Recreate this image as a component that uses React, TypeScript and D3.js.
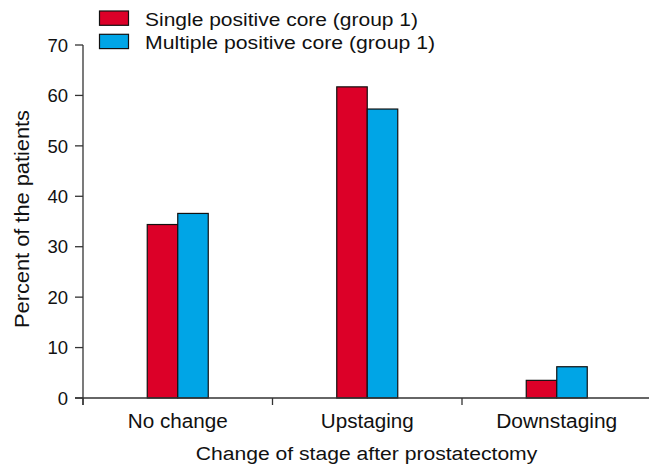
import React from "react";
import * as d3 from "d3";

const categories = ["No change", "Upstaging", "Downstaging"];
const seriesNames = ["Single positive core (group 1)", "Multiple positive core (group 1)"];
const singleValues = [34.4, 61.7, 3.5];
const multipleValues = [36.6, 57.3, 6.2];
const yTicks = [0, 10, 20, 30, 40, 50, 60, 70];
const colors = ["#dc0028", "#00a5e6"];

const W = 649;
const H = 466;
const left = 83;
const right = 651.5;
const y0 = 398;
const yTop = 45;
const font = "Liberation Sans, Arial, sans-serif";
const catWidths = [100, 93, 121];
const legendWidths = [273, 290];

export default function App() {
  const x = d3.scaleBand<string>().domain(categories).range([left, right]).padding(0);
  const y = d3.scaleLinear().domain([0, 70]).range([y0, yTop]);
  const barW = 30.5;
  const series = [singleValues, multipleValues];
  const boundaries = categories.map((c) => x(c)!).concat([right]);

  return (
    <svg width={W} height={H} style={{ position: "absolute", left: 0, top: 0 }} fontFamily={font}>
      {categories.map((c, i) => {
        const cx = x(c)! + x.bandwidth() / 2;
        return series.map((vals, s) => (
          <rect
            key={c + s}
            x={cx - barW + s * barW}
            y={y(vals[i])}
            width={barW}
            height={y0 - y(vals[i])}
            fill={colors[s]}
            stroke="#111"
            strokeWidth={1.2}
          />
        ));
      })}
      <line x1={left} x2={left} y1={yTop} y2={y0 + 7} stroke="#333" strokeWidth={1.3} />
      {yTicks.map((t) => (
        <g key={t}>
          <line x1={left - 8} x2={left} y1={y(t)} y2={y(t)} stroke="#333" strokeWidth={1.3} />
          <text x={left - 15} y={y(t)} dy="0.36em" textAnchor="end" fontSize={18.5} fill="#111">
            {t}
          </text>
        </g>
      ))}
      <line x1={left - 8} x2={right} y1={y0} y2={y0} stroke="#333" strokeWidth={1.3} />
      {boundaries.map((b, i) => (
        <line key={i} x1={b} x2={b} y1={y0} y2={y0 + 7} stroke="#333" strokeWidth={1.3} />
      ))}
      {categories.map((c, i) => (
        <text
          key={c}
          x={x(c)! + x.bandwidth() / 2 - catWidths[i] / 2}
          y={428.3}
          fontSize={19.5}
          fill="#111"
          textLength={catWidths[i]}
          lengthAdjust="spacingAndGlyphs"
        >
          {c}
        </text>
      ))}
      <text x={195.7} y={460} fontSize={18.8} fill="#111" textLength={341.6} lengthAdjust="spacingAndGlyphs">
        Change of stage after prostatectomy
      </text>
      <text
        transform={`translate(28.5,328) rotate(-90)`}
        fontSize={19.5}
        fill="#111"
        textLength={218}
        lengthAdjust="spacingAndGlyphs"
      >
        Percent of the patients
      </text>
      {seriesNames.map((n, s) => (
        <g key={n}>
          <rect x={99.5} y={11 + s * 23.3} width={29} height={14.3} fill={colors[s]} stroke="#111" strokeWidth={1.2} />
          <text
            x={145}
            y={25.7 + s * 23.3}
            fontSize={18.7}
            fill="#111"
            textLength={legendWidths[s]}
            lengthAdjust="spacingAndGlyphs"
          >
            {n}
          </text>
        </g>
      ))}
    </svg>
  );
}
